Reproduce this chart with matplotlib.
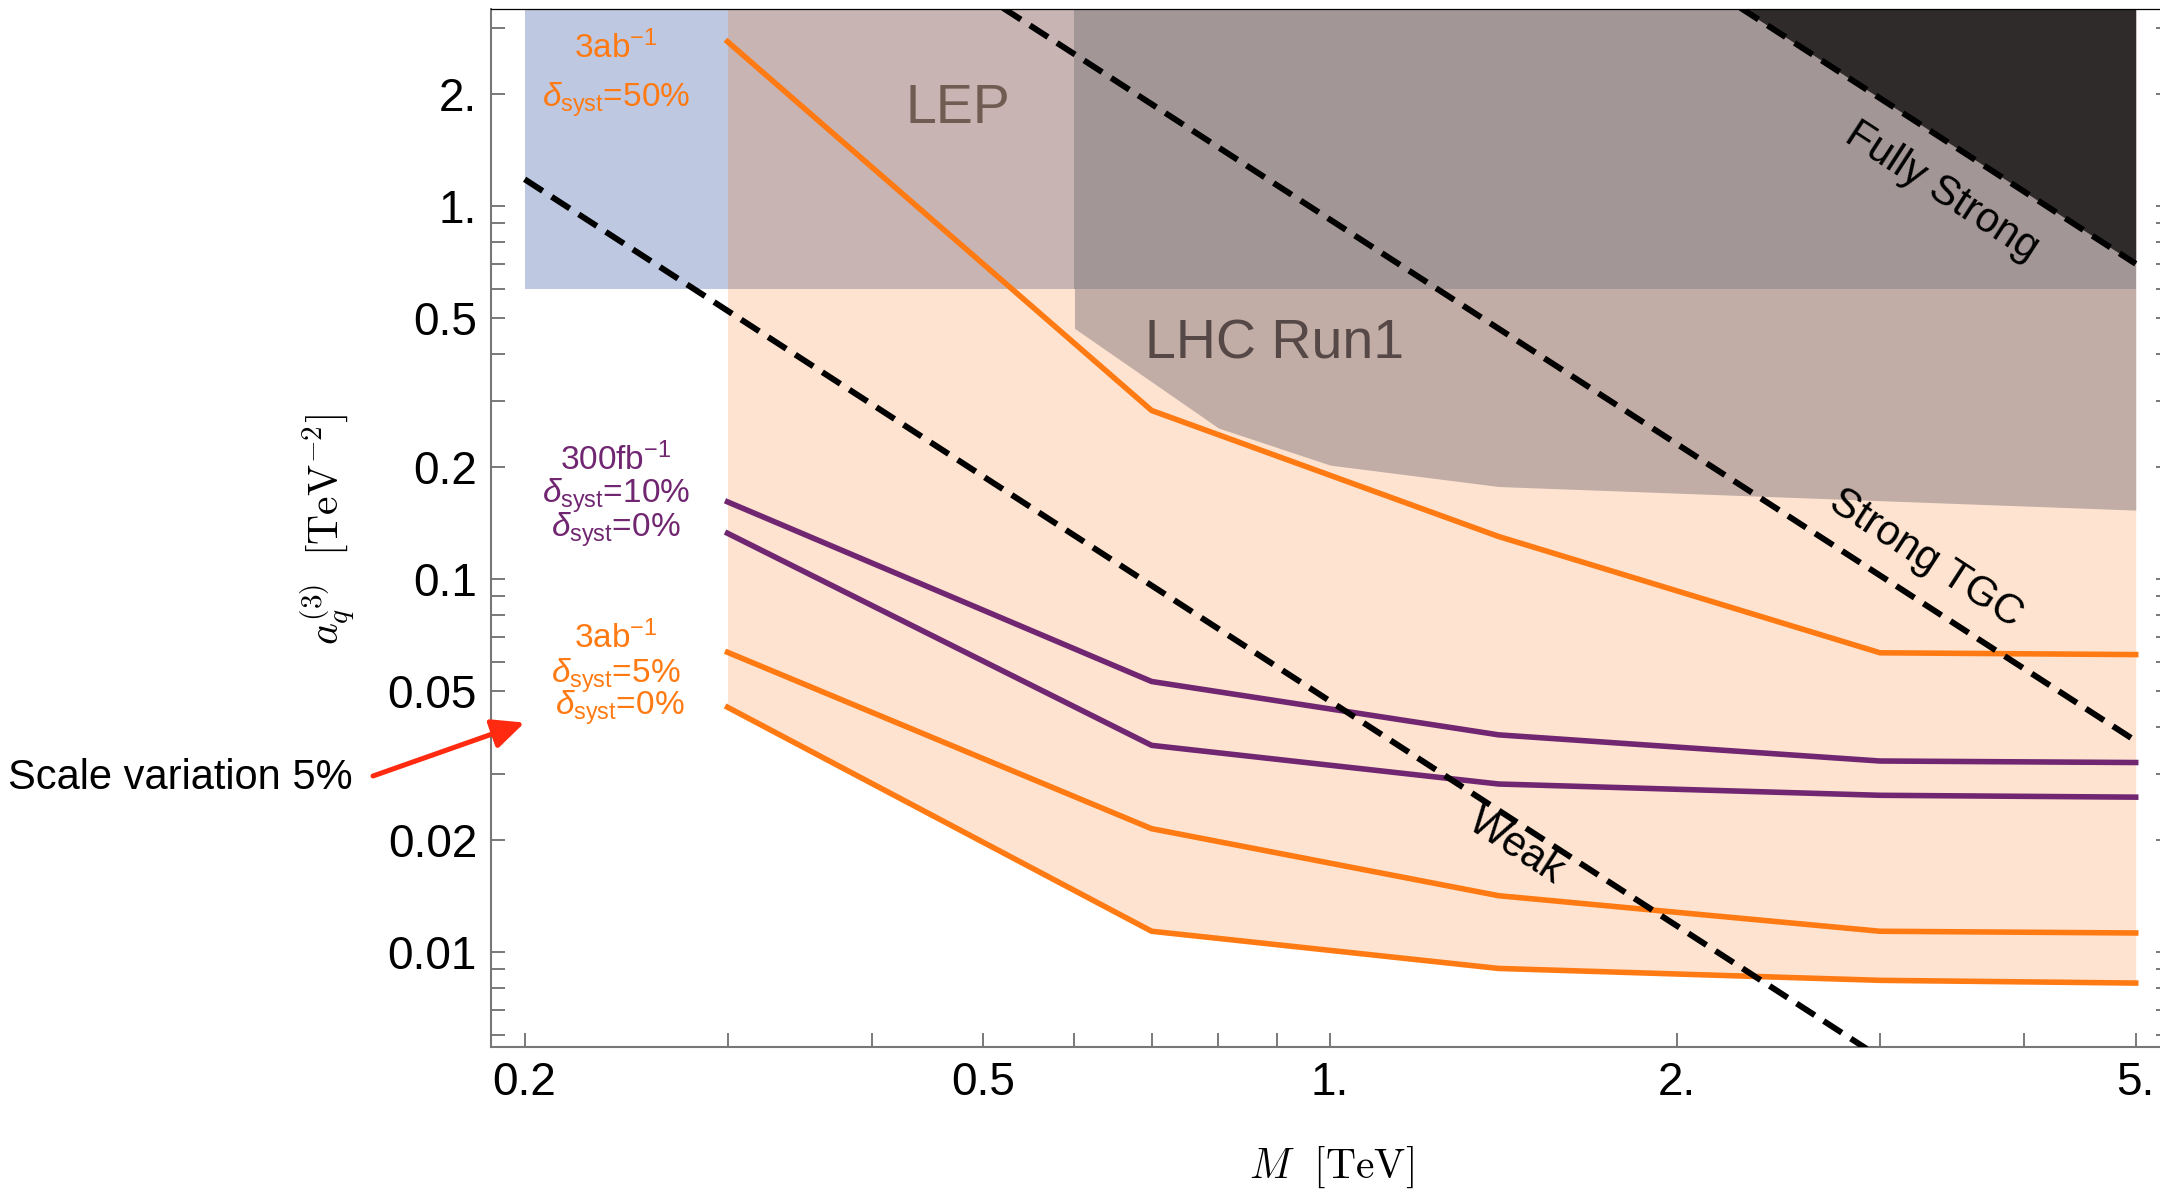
import matplotlib
matplotlib.use('Agg')
import matplotlib.pyplot as plt
from matplotlib.ticker import FixedLocator, FixedFormatter, NullFormatter

plt.rcParams['font.family'] = ['Liberation Sans', 'DejaVu Sans']
plt.rcParams['mathtext.fontset'] = 'custom'
plt.rcParams['mathtext.rm'] = 'Liberation Sans'
plt.rcParams['mathtext.it'] = 'Liberation Sans:italic'
plt.rcParams['mathtext.bf'] = 'Liberation Sans:bold'

# projected bounds vs. resonance mass M [TeV]
M = [0.3, 0.7, 1.4, 3.0, 5.0]
lim_3ab_50 = [2.76, 0.283, 0.130, 0.0634, 0.0627]
lim_300fb_10 = [0.161, 0.0531, 0.0382, 0.0325, 0.0322]
lim_300fb_0 = [0.1326, 0.0358, 0.0282, 0.0263, 0.0260]
lim_3ab_5 = [0.0636, 0.0214, 0.01415, 0.01136, 0.01124]
lim_3ab_0 = [0.0453, 0.01136, 0.00903, 0.00839, 0.00825]

# excluded regions
lep_x = [0.2, 5.0]
lep_lo = [0.6, 0.6]
lhc_x = [0.6, 0.8, 1.0, 1.4, 5.0]
lhc_lo = [0.47, 0.254, 0.202, 0.177, 0.153]

# power counting lines
weak_x = [0.2, 2.92]
weak_y = [1.18, 0.0055]
tgc_x = [0.52, 5.0]
tgc_y = [3.40, 0.0368]
strong_x = [2.27, 5.0]
strong_y = [3.40, 0.70]

x_ticks = [0.2, 0.5, 1, 2, 5]
x_labels = ['0.2', '0.5', '1.', '2.', '5.']
y_ticks = [0.01, 0.02, 0.05, 0.1, 0.2, 0.5, 1, 2]
y_labels = ['0.01', '0.02', '0.05', '0.1', '0.2', '0.5', '1.', '2.']

ORANGE = '#FF7A12'
PURPLE = '#702670'
PEACH = '#FDE3D0'
BLUE = '#BEC9E1'
LEP_ON = '#C8B4B2'
LHC = '#C1ADA5'
BOTH = '#A39696'
DARK = '#302B2B'
TOP = 10.0

fig = plt.figure(figsize=(21.6, 11.93), dpi=100)
ax = fig.add_axes([0.2273, 0.12264, 0.7773, 0.86998])
ax.set_xscale('log')
ax.set_yscale('log')
ax.set_xlim(0.187, 5.354)
ax.set_ylim(0.00557, 3.38)

# shaded regions, drawn back to front
ax.fill_between(M, lim_3ab_0, TOP, color=PEACH, lw=0, zorder=1)
ax.fill_between(lep_x, lep_lo, TOP, color=BLUE, lw=0, zorder=1.1)
ax.fill_between([0.3, lep_x[1]], lep_lo, TOP, color=LEP_ON, lw=0, zorder=1.2)
ax.fill_between(lhc_x, lhc_lo, TOP, color=LHC, lw=0, zorder=1.3)
ax.fill_between([lhc_x[0], lep_x[1]], lep_lo, TOP, color=BOTH, lw=0, zorder=1.4)
ax.fill_between(strong_x, strong_y, TOP, color=DARK, lw=0, zorder=1.5)

for ys, c in [(lim_3ab_50, ORANGE), (lim_300fb_10, PURPLE), (lim_300fb_0, PURPLE),
              (lim_3ab_5, ORANGE), (lim_3ab_0, ORANGE)]:
    ax.plot(M, ys, color=c, lw=4, solid_joinstyle='miter', zorder=3)

for xs, ys in [(weak_x, weak_y), (tgc_x, tgc_y), (strong_x, strong_y)]:
    ax.plot(xs, ys, color='black', lw=4.3, ls=(0, (3.6, 1.8)), zorder=4)

# region and line labels
ax.text(0.475, 1.67, 'LEP', fontsize=40, color='#705C52', ha='center', va='baseline', zorder=5)
ax.text(0.8956, 0.391, 'LHC Run1', fontsize=40, color='#554846', ha='center', va='baseline', zorder=5)
ax.text(3.394, 1.09, 'Fully Strong', fontsize=30, rotation=-33, ha='center', va='center',
        rotation_mode='anchor', zorder=5)
ax.text(3.286, 0.1138, 'Strong TGC', fontsize=30, rotation=-33, ha='center', va='center',
        rotation_mode='anchor', zorder=5)
ax.text(1.449, 0.01912, 'Weak', fontsize=30, rotation=-33, ha='center', va='center',
        rotation_mode='anchor', zorder=5)

lab = dict(fontsize=24, ha='center', va='center', zorder=5)
ax.text(0.24, 2.652, r'3ab$^{-1}$', color=ORANGE, **lab)
ax.text(0.24, 1.924, r'$\delta_\mathrm{syst}$=50%', color=ORANGE, **lab)
ax.text(0.24, 0.2085, r'300fb$^{-1}$', color=PURPLE, **lab)
ax.text(0.24, 0.1669, r'$\delta_\mathrm{syst}$=10%', color=PURPLE, **lab)
ax.text(0.24, 0.1353, r'$\delta_\mathrm{syst}$=0%', color=PURPLE, **lab)
ax.text(0.24, 0.0695, r'3ab$^{-1}$', color=ORANGE, **lab)
ax.text(0.24, 0.0550, r'$\delta_\mathrm{syst}$=5%', color=ORANGE, **lab)
ax.text(0.242, 0.0451, r'$\delta_\mathrm{syst}$=0%', color=ORANGE, **lab)

fig.text(8 / 2160, 1 - 778 / 1193, 'Scale variation 5%', fontsize=30, ha='left', va='center')
ax.annotate('', xy=(0.2, 0.0412), xycoords='data',
            xytext=(373, 1193 - 776), textcoords='figure pixels',
            arrowprops=dict(arrowstyle='-|>,head_length=1.3,head_width=0.6',
                            color='#FF2A10', lw=3.6, mutation_scale=15,
                            shrinkA=0, shrinkB=0),
            annotation_clip=False, zorder=6)

# axis labels in serif math
fig.text(1331 / 2160, 1 - 1167 / 1193, r'$M\ \ [\mathrm{TeV}]$', fontsize=30,
         math_fontfamily='cm', ha='center', va='center')
fig.text(328 / 2160, 1 - 530 / 1193, r'$a_q^{(3)}\ \ [\mathrm{TeV}^{-2}]$', fontsize=30,
         math_fontfamily='cm', ha='center', va='center', rotation=90)

# ticks
ax.xaxis.set_major_locator(FixedLocator(x_ticks))
ax.xaxis.set_major_formatter(FixedFormatter(x_labels))
ax.xaxis.set_minor_locator(FixedLocator([0.3, 0.4, 0.6, 0.7, 0.8, 0.9, 3, 4]))
ax.xaxis.set_minor_formatter(NullFormatter())
ax.yaxis.set_major_locator(FixedLocator(y_ticks))
ax.yaxis.set_major_formatter(FixedFormatter(y_labels))
ax.yaxis.set_minor_locator(FixedLocator([0.006, 0.007, 0.008, 0.009, 0.03, 0.04, 0.06, 0.07,
                                         0.08, 0.09, 0.3, 0.4, 0.6, 0.7, 0.8, 0.9, 3]))
ax.yaxis.set_minor_formatter(NullFormatter())
ax.tick_params(which='both', direction='in', length=10, width=1.1, color='#555555',
               top=False, right=True, labelsize=33)
ax.tick_params(axis='x', pad=10)
ax.tick_params(axis='y', pad=10)

for side in ['left', 'bottom']:
    ax.spines[side].set_color('#777777')
    ax.spines[side].set_linewidth(1.5)
ax.spines['top'].set_color('black')
ax.spines['top'].set_linewidth(0.9)
ax.spines['right'].set_color('#555555')

fig.savefig('out.png', dpi=100)
